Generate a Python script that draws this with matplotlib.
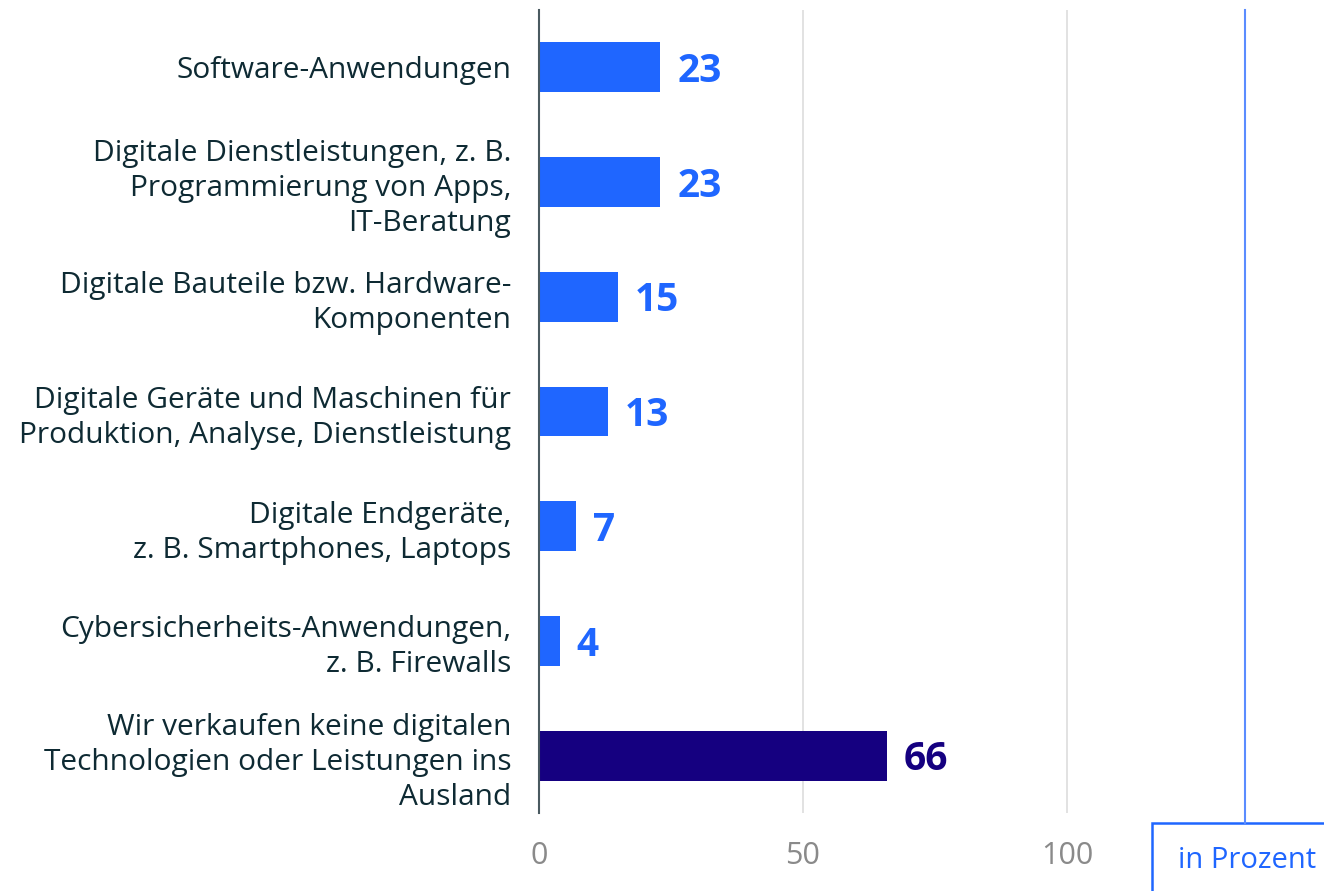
import matplotlib.pyplot as plt
import matplotlib.transforms as mtransforms
from matplotlib.patches import Rectangle
from matplotlib.lines import Line2D

categories = [
    "Software-Anwendungen",
    "Digitale Dienstleistungen, z. B.\nProgrammierung von Apps,\nIT-Beratung",
    "Digitale Bauteile bzw. Hardware-\nKomponenten",
    "Digitale Geräte und Maschinen für\nProduktion, Analyse, Dienstleistung",
    "Digitale Endgeräte,\nz. B. Smartphones, Laptops",
    "Cybersicherheits-Anwendungen,\nz. B. Firewalls",
    "Wir verkaufen keine digitalen\nTechnologien oder Leistungen ins\nAusland",
]
values = [23, 23, 15, 13, 7, 4, 66]
bar_colors = ["#1f66ff"] * 6 + ["#150080"]
xticks = [0, 50, 100]

plt.rcParams["font.family"] = ["Open Sans", "DejaVu Sans"]

fig = plt.figure(figsize=(13.24, 8.91), dpi=100)
ax = fig.add_axes([539 / 1324, 1 - 813 / 891, 1 - 539 / 1324, 803 / 891])

y = list(range(len(values)))
ax.barh(y, values, height=0.435, color=bar_colors, zorder=3)

for yi, v, c in zip(y, values, bar_colors):
    ax.annotate(str(v), (v, yi), xytext=(12, -3), textcoords="offset points",
                va="center", ha="left", fontsize=28, fontweight="bold", color=c)

ax.set_xlim(0, 148.7)
ax.set_ylim(6.5, -0.5)
ax.set_yticks(y)
ax.set_yticklabels(categories, fontsize=21.5, color="#0e2a33", linespacing=1.27)
# nudge category labels up a little
shift = mtransforms.ScaledTranslation(0, 3 / 100, fig.dpi_scale_trans)
for lbl in ax.get_yticklabels():
    lbl.set_transform(lbl.get_transform() + shift)
ax.set_xticks(xticks)
ax.set_xticklabels([str(t) for t in xticks], fontsize=22, color="#8a8a8a")
ax.tick_params(axis="y", length=0, pad=20)
ax.tick_params(axis="x", length=0, pad=20)

ax.grid(axis="x", color="#dddddd", linewidth=1.2, zorder=0)
for s in ["top", "right", "bottom"]:
    ax.spines[s].set_visible(False)
ax.spines["left"].set_color("#4a5a60")
ax.spines["left"].set_linewidth(1.5)
ax.spines["left"].set_zorder(4)

# "in Prozent" unit box
fig.add_artist(Line2D([1245 / 1324, 1245 / 1324], [1 - 10 / 891, 1 - 823 / 891],
                      color="#5b8cff", linewidth=1.5, transform=fig.transFigure))
fig.add_artist(Rectangle((1152 / 1324, -0.05), 0.2, 0.05 + 68 / 891,
                         transform=fig.transFigure, fill=False,
                         edgecolor="#1f66ff", linewidth=1.8))
fig.text(1247 / 1324, 1 - 860 / 891, "in Prozent", ha="center", va="center",
         fontsize=21, color="#1f66ff")

fig.savefig("out.png", dpi=100)
